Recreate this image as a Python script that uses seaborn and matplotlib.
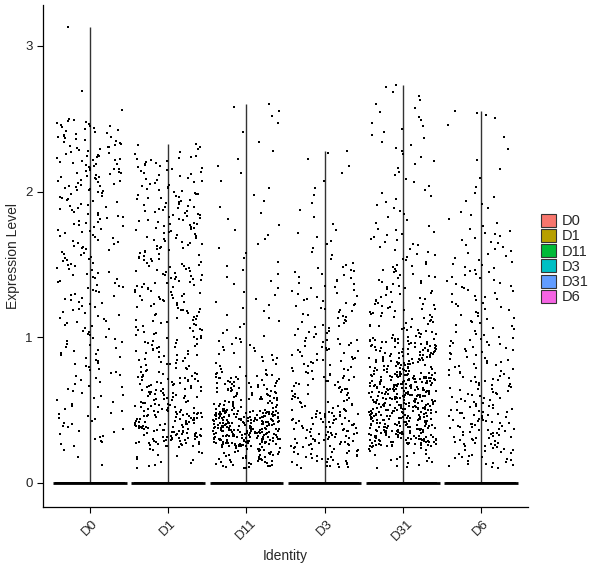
import numpy as np
import pandas as pd
import matplotlib
matplotlib.use("Agg")
import matplotlib.pyplot as plt
from matplotlib.patches import Patch
import seaborn as sns

# identities and their ggplot-style fill colours
idents = ["D0", "D1", "D11", "D3", "D31", "D6"]
colors = ["#F8766D", "#B79F00", "#00BA38", "#00BFC4", "#619CFF", "#F564E3"]

# cells with zero expression per identity (they make the thick line at 0)
zero_counts = [900, 900, 900, 900, 900, 900]

# nonzero cells counted per expression bin
bin_edges = [0.1, 0.25, 0.5, 0.75, 1.0, 1.25, 1.5, 1.75, 2.0, 2.25, 2.5, 2.75, 3.0, 3.25]
counts_D0 = [3, 22, 20, 25, 25, 28, 30, 32, 45, 40, 2, 0, 0]
counts_D1 = [15, 110, 70, 45, 40, 45, 40, 45, 35, 5, 0, 0, 0]
counts_D11 = [50, 230, 80, 25, 12, 10, 8, 6, 5, 4, 3, 0, 0]
counts_D3 = [35, 80, 45, 40, 30, 25, 10, 5, 5, 1, 0, 0, 0]
counts_D31 = [20, 170, 180, 110, 45, 30, 22, 12, 10, 12, 8, 0, 0]
counts_D6 = [25, 60, 45, 35, 25, 25, 20, 10, 4, 3, 3, 0, 0]

# highest value in each identity (top of the violin tail)
max_expr = [3.13, 2.33, 2.60, 2.28, 2.73, 2.55]

all_counts = [counts_D0, counts_D1, counts_D11, counts_D3, counts_D31, counts_D6]

rows = []
for ident, counts, nzero, top in zip(idents, all_counts, zero_counts, max_expr):
    rows += [(ident, 0.0)] * nzero
    for i, n in enumerate(counts):
        if n == 0:
            continue
        lo, hi = bin_edges[i], min(bin_edges[i + 1], top)
        vals = lo + (np.arange(n) + 0.5) / n * (hi - lo)
        rows += [(ident, v) for v in vals]
    rows.append((ident, top))
df = pd.DataFrame(rows, columns=["ident", "expr"])

sns.set_style("white")
plt.rcParams["font.family"] = ["Liberation Sans", "DejaVu Sans"]

fig = plt.figure(figsize=(6, 5.68), dpi=100)
ax = fig.add_axes([0.0717, 0.1074, 0.8083, 0.8836])

# collapsed violins: a thin vertical tail and a flat bulge at zero
pos = np.arange(len(idents))
ax.vlines(pos, 0, max_expr, color="#333333", linewidth=1)
ax.hlines([0] * len(idents), pos - 0.47, pos + 0.47, color="black", linewidth=2.0)

sns.stripplot(data=df, x="ident", y="expr", order=idents, color="black",
              jitter=0.43, size=1.7, linewidth=0, marker="s", ax=ax)

ax.set_xlim(-0.6, 5.6)
ax.set_ylim(-0.165, 3.28)
ax.set_yticks([0, 1, 2, 3])
ax.set_yticklabels(["0", "1", "2", "3"])
ax.tick_params(axis="both", length=4, width=0.8, color="black", labelsize=9.5, labelcolor="#222222")
ax.tick_params(axis="x", bottom=True)
ax.tick_params(axis="y", left=True)
plt.setp(ax.get_xticklabels(), rotation=45, ha="center", va="top")
ax.set_xlabel("Identity", fontsize=10)
ax.set_ylabel("Expression Level", fontsize=10)
sns.despine(ax=ax)
for side in ["left", "bottom"]:
    ax.spines[side].set_color("black")
    ax.spines[side].set_linewidth(0.9)

handles = [Patch(facecolor=c, edgecolor="#333333", linewidth=0.8, label=l)
           for c, l in zip(colors, idents)]
fig.legend(handles=handles, loc="center left", bbox_to_anchor=(0.892, 0.544),
           frameon=False, fontsize=10.5, handlelength=1.0, handleheight=1.0,
           handletextpad=0.45, labelspacing=0.05, borderaxespad=0)

fig.savefig("out.png", dpi=100)
